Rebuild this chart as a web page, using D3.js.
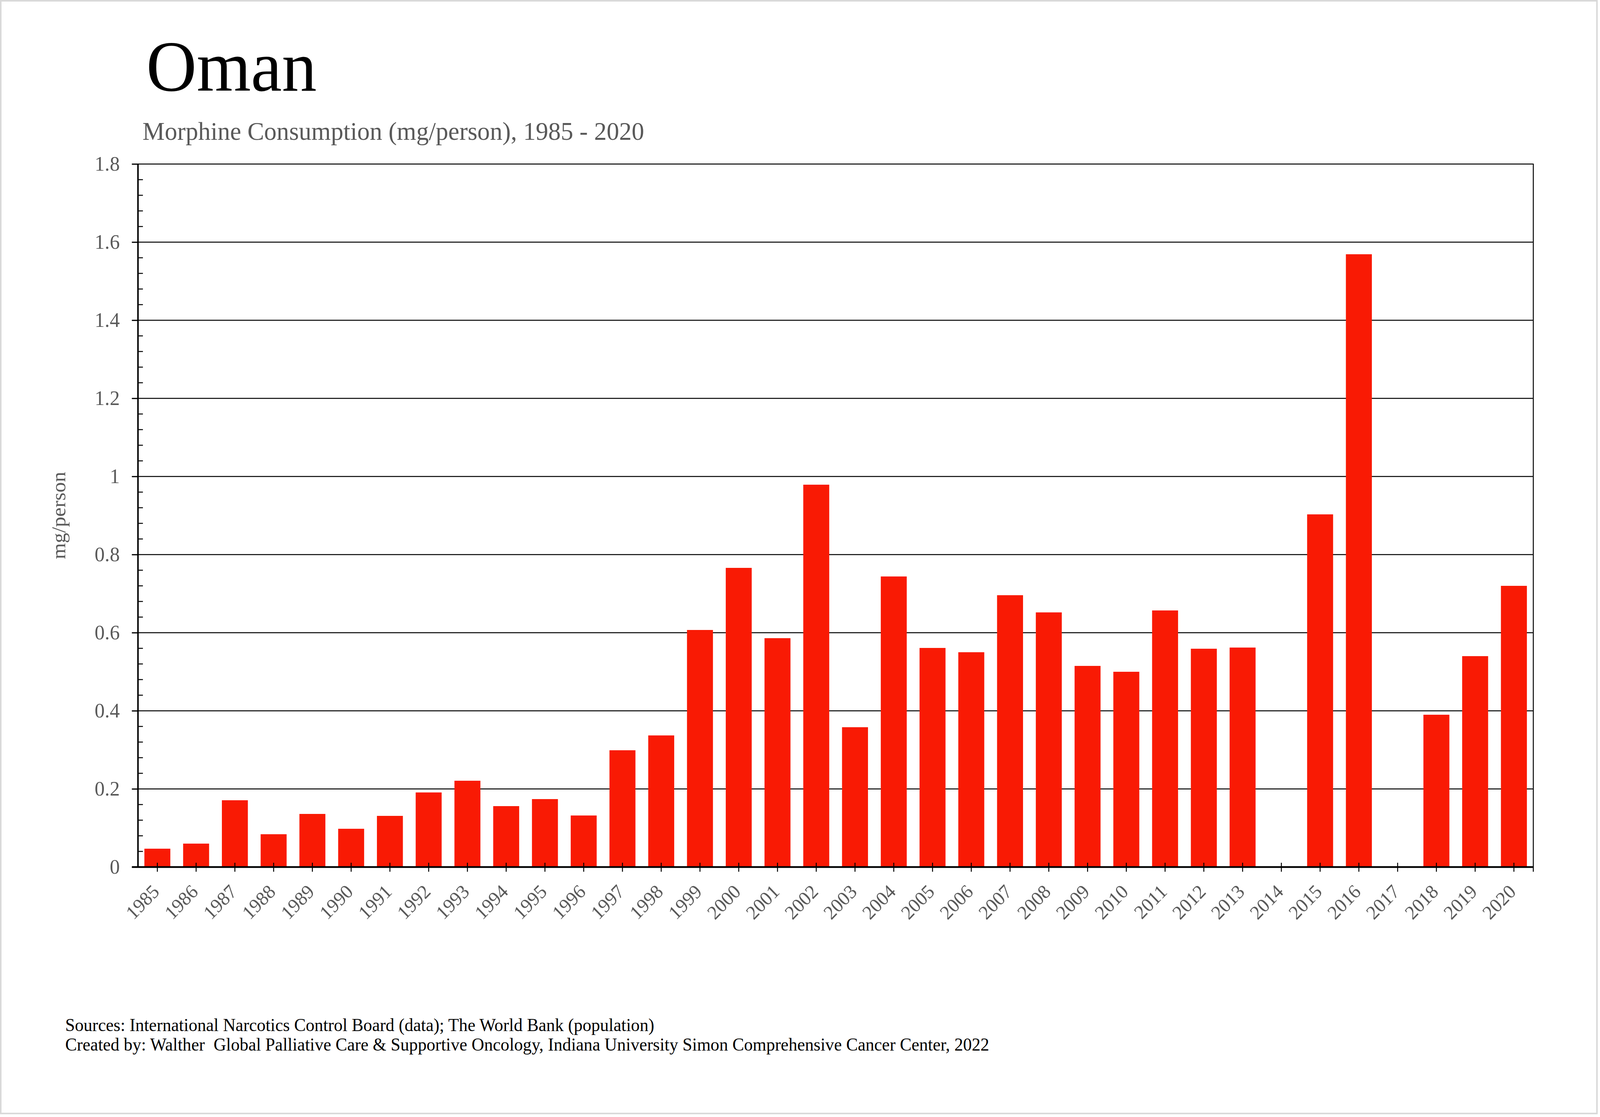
<!DOCTYPE html>
<html>
<head>
<meta charset="utf-8">
<script src="https://cdn.jsdelivr.net/npm/d3@7"></script>
<style>
  html, body { margin: 0; padding: 0; background: #fff; overflow: hidden; }
  svg { display: block; }
  text { font-family: "Liberation Serif", "Times New Roman", serif; white-space: pre; }
</style>
</head>
<body>
<script>
const years = ["1985","1986","1987","1988","1989","1990","1991","1992","1993","1994","1995","1996",
  "1997","1998","1999","2000","2001","2002","2003","2004","2005","2006","2007","2008","2009","2010",
  "2011","2012","2013","2014","2015","2016","2017","2018","2019","2020"];
const values = [0.047,0.060,0.171,0.084,0.136,0.098,0.131,0.191,0.221,0.156,0.174,0.132,
  0.299,0.337,0.607,0.766,0.586,0.979,0.358,0.744,0.561,0.550,0.696,0.652,0.515,0.500,
  0.657,0.559,0.562,null,0.903,1.569,null,0.390,0.540,0.720];
const yTicks = [0,0.2,0.4,0.6,0.8,1,1.2,1.4,1.6,1.8];
const titleText = "Oman";
const subtitleText = "Morphine Consumption (mg/person), 1985 - 2020";
const yLabelText = "mg/person";
const footerLines = [
  "Sources: International Narcotics Control Board (data); The World Bank (population)",
  "Created by: Walther  Global Palliative Care & Supportive Oncology, Indiana University Simon Comprehensive Cancer Center, 2022"
];

const W = 4221, H = 2860;
const plot = {left: 364, right: 4045, top: 420, bottom: 2220};
const barColor = "#F91A04";
const grey = "#595959";

const vw = window.innerWidth || W, vh = window.innerHeight || H;
const svg = d3.select("body").append("svg")
  .attr("width", vw).attr("height", vh)
  .attr("viewBox", `0 0 ${W} ${H}`)
  .attr("preserveAspectRatio", "none");
svg.append("rect").attr("x",0).attr("y",0).attr("width",W).attr("height",H).attr("fill","#fff");
svg.append("rect").attr("x",2).attr("y",2).attr("width",4211).attr("height",2849)
  .attr("fill","none").attr("stroke","#d9d9d9").attr("stroke-width",4);

const x = d3.scaleBand().domain(years).range([plot.left, plot.right]).paddingInner(0.33).paddingOuter(0.165);
const xc = d3.scaleBand().domain(years).range([plot.left, plot.right]);
const y = d3.scaleLinear().domain([0, 1.8]).range([plot.bottom, plot.top]);

// gridlines
svg.append("g").selectAll("line").data(yTicks.filter(d => d > 0)).join("line")
  .attr("x1", plot.left - 16).attr("x2", plot.right)
  .attr("y1", d => y(d)).attr("y2", d => y(d))
  .attr("stroke", "#000").attr("stroke-width", 2.5);

// minor ticks
const minor = d3.range(0, 1.8001, 0.04).filter(v => Math.abs(Math.round(v*5) - v*5) > 1e-6);
svg.append("g").selectAll("line").data(minor).join("line")
  .attr("x1", plot.left).attr("x2", plot.left + 13)
  .attr("y1", d => y(d)).attr("y2", d => y(d))
  .attr("stroke", "#000").attr("stroke-width", 2.5);

// bars
svg.append("g").selectAll("rect").data(years.map((yr, i) => ({yr, v: values[i]})).filter(d => d.v != null))
  .join("rect")
  .attr("x", d => x(d.yr)).attr("width", x.bandwidth())
  .attr("y", d => y(d.v)).attr("height", d => y(0) - y(d.v))
  .attr("fill", barColor);

// y axis
const yAxis = d3.axisLeft(y).tickValues(yTicks).tickSize(16).tickPadding(32)
  .tickFormat(d => d3.format("~g")(d));
const gy = svg.append("g").attr("transform", `translate(${plot.left},0)`).call(yAxis);
gy.select(".domain").remove();
gy.selectAll(".tick line").attr("stroke", "#000").attr("stroke-width", 2.5);
gy.selectAll(".tick text").attr("fill", grey).attr("font-size", 53)
  .attr("font-family", '"Liberation Serif", "Times New Roman", serif');
svg.append("line").attr("x1", plot.left).attr("x2", plot.left)
  .attr("y1", plot.top - 1).attr("y2", plot.bottom + 2).attr("stroke", "#000").attr("stroke-width", 4);

// x axis
const xAxis = d3.axisBottom(xc).tickSize(12).tickPadding(0).tickFormat(d => d);
const gx = svg.append("g").attr("transform", `translate(0,${plot.bottom})`).call(xAxis);
gx.select(".domain").remove();
gx.selectAll(".tick line").attr("y1", -11).attr("y2", 12).attr("stroke", "#000").attr("stroke-width", 2.5);
gx.selectAll(".tick text")
  .attr("fill", grey).attr("font-size", 50)
  .attr("font-family", '"Liberation Serif", "Times New Roman", serif')
  .attr("text-anchor", "end").attr("dy", 0).attr("y", 0)
  .attr("transform", "translate(8,66) rotate(-45)");
svg.append("line").attr("x1", plot.left - 16).attr("x2", plot.right + 1)
  .attr("y1", plot.bottom).attr("y2", plot.bottom).attr("stroke", "#000").attr("stroke-width", 4.5);
// right frame
svg.append("line").attr("x1", plot.right).attr("x2", plot.right)
  .attr("y1", plot.top - 1).attr("y2", plot.bottom + 12).attr("stroke", "#000").attr("stroke-width", 2.5);

// y label
svg.append("text").attr("transform", `translate(172,${(plot.top + plot.bottom)/2}) rotate(-90)`)
  .attr("text-anchor", "middle").attr("font-size", 53).attr("fill", grey).text(yLabelText);

// titles
svg.append("text").attr("x", 386).attr("y", 232).attr("font-size", 184).attr("fill", "#000").text(titleText);
svg.append("text").attr("x", 376).attr("y", 358).attr("font-size", 66).attr("fill", grey).text(subtitleText);

// footer
svg.append("g").selectAll("text").data(footerLines).join("text")
  .attr("x", 172).attr("y", (d, i) => 2640 + i * 50)
  .attr("font-size", 46).attr("fill", "#000").text(d => d);
</script>
</body>
</html>
